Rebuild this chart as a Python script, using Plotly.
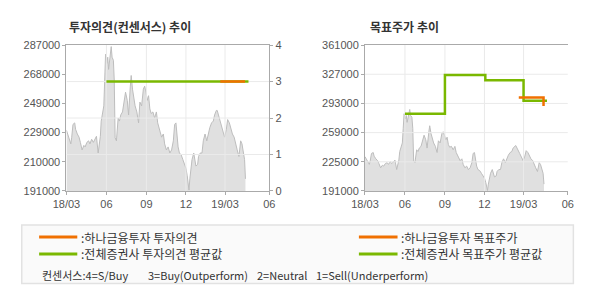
import plotly.graph_objects as go

# ---------------- data ----------------
PRICE_DATES = [
    "2018-03-01", "2018-03-04", "2018-03-07", "2018-03-11", "2018-03-13", "2018-03-16", "2018-03-20", "2018-03-22", "2018-03-26", "2018-03-30",
    "2018-04-02", "2018-04-06", "2018-04-10", "2018-04-13", "2018-04-17", "2018-04-21", "2018-04-24", "2018-04-28", "2018-05-02", "2018-05-06",
    "2018-05-09", "2018-05-13", "2018-05-15", "2018-05-18", "2018-05-20", "2018-05-23", "2018-05-26", "2018-05-28", "2018-05-30", "2018-06-02",
    "2018-06-04", "2018-06-06", "2018-06-09", "2018-06-12", "2018-06-14", "2018-06-17", "2018-06-19", "2018-06-21", "2018-06-24", "2018-06-26",
    "2018-06-28", "2018-07-01", "2018-07-04", "2018-07-08", "2018-07-11", "2018-07-15", "2018-07-19", "2018-07-22", "2018-07-26", "2018-07-28",
    "2018-07-31", "2018-08-03", "2018-08-06", "2018-08-10", "2018-08-14", "2018-08-17", "2018-08-21", "2018-08-25", "2018-08-28", "2018-08-31",
    "2018-09-03", "2018-09-06", "2018-09-09", "2018-09-12", "2018-09-16", "2018-09-20", "2018-09-24", "2018-09-27",
    "2018-09-29", "2018-10-02", "2018-10-06", "2018-10-10", "2018-10-13", "2018-10-17", "2018-10-21", "2018-10-25", "2018-10-29", "2018-11-02",
    "2018-11-05", "2018-11-08", "2018-11-11", "2018-11-13", "2018-11-16", "2018-11-20", "2018-11-24", "2018-11-28", "2018-12-01", "2018-12-04",
    "2018-12-07", "2018-12-08", "2018-12-10", "2018-12-13", "2018-12-15", "2018-12-19", "2018-12-21", "2018-12-24", "2018-12-28", "2018-12-30",
    "2019-01-03", "2019-01-07", "2019-01-10", "2019-01-14", "2019-01-18", "2019-01-22", "2019-01-25", "2019-01-29", "2019-02-02", "2019-02-05",
    "2019-02-09", "2019-02-11", "2019-02-14", "2019-02-17", "2019-02-20", "2019-02-24", "2019-02-28", "2019-03-04", "2019-03-07", "2019-03-11",
    "2019-03-14", "2019-03-18", "2019-03-22", "2019-03-26", "2019-03-29", "2019-04-02", "2019-04-06", "2019-04-09", "2019-04-13", "2019-04-15",
    "2019-04-17",
]
PRICE = [
    231000, 228500, 225000, 222000, 226000, 234800, 235800, 231600, 228500, 226400,
    223000, 218000, 221000, 220000, 223000, 224000, 222000, 225000, 223000, 226000,
    227000, 216000, 220000, 227000, 237000, 243000, 247000, 264000, 281000, 275000,
    279000, 271000, 281000, 286000, 279000, 277000, 264000, 226000, 224000, 232000,
    239000, 237000, 241000, 243000, 249500, 256000, 250600, 241000, 260000, 267000,
    258000, 251600, 247000, 243000, 235800, 249500, 247000, 258000, 260000, 256000,
    250600, 253700, 245000, 242000, 243000, 239000, 243000, 235800,
    233700, 230600, 226400, 228500, 222000, 218000, 220000, 216000, 218000, 224000,
    234800, 235800, 224000, 220000, 216000, 214800, 211600, 208500, 206000, 201000,
    194800, 191600, 199000, 205000, 211600, 216000, 211600, 207400, 208500, 213700,
    216000, 216000, 224000, 228500, 224000, 230600, 232700, 235800, 237000, 241000,
    244000, 244000, 241000, 237000, 234800, 230600, 226400, 231600, 238000, 235800,
    232700, 228500, 226400, 220000, 218000, 213700, 224000, 222000, 213700, 211600,
    199000,
]

# consensus opinion (4=S/Buy 3=Buy 2=Neutral 1=Sell)
OPINION_ALL_DATES = ["2018-06-01", "2019-04-24"]
OPINION_ALL = [3, 3]
OPINION_HANA_DATES = ["2019-02-18", "2019-04-16"]
OPINION_HANA = [3, 3]

# target price
TARGET_ALL_DATES = ["2018-06-01", "2018-09-01", "2018-12-03", "2019-03-01", "2019-04-24"]
TARGET_ALL = [281000, 326000, 320000, 296000, 296000]
TARGET_HANA_DATES = ["2019-02-18", "2019-04-16"]
TARGET_HANA = [300000, 290000]

# axes
X_RANGE = ["2018-03-01", "2019-06-11"]
X_TICKS = ["2018-03-01", "2018-06-01", "2018-09-01", "2018-12-01", "2019-03-01", "2019-06-11"]
X_LABELS = ["18/03", "06", "09", "12", "19/03", "06"]

L_RANGE = [191000, 287000]
L_TICKS = [191000, 210200, 229400, 248600, 267800, 287000]
L_LABELS = ["191000", "210000", "229000", "249000", "268000", "287000"]
OP_RANGE = [0, 4]
OP_TICKS = [0, 1, 2, 3, 4]

R_RANGE = [191000, 361000]
R_TICKS = [191000, 225000, 259000, 293000, 327000, 361000]
R_LABELS = ["191000", "225000", "259000", "293000", "327000", "361000"]

TITLE_L = "투자의견(컨센서스) 추이"
TITLE_R = "목표주가 추이"
LEG_L = [":하나금융투자 투자의견", ":전체증권사 투자의견 평균값"]
LEG_R = [":하나금융투자 목표주가", ":전체증권사 목표주가 평균값"]
LEG_NOTE = ["컨센서스:4=S/Buy", "3=Buy(Outperform)", "2=Neutral", "1=Sell(Underperform)"]

# ---------------- style ----------------
W, H = 590, 300
ORANGE = "#f07000"
GREEN = "#7ab800"
GRID = "#eaeaea"
AXIS = "#aaaaaa"
TICKC = "#555555"
KFONT = "Noto Sans CJK KR"
NFONT = "Liberation Sans, Arial"


def px(x):
    return x / W


def py(y):
    return 1 - y / H


fig = go.Figure()

# left chart: price area
fig.add_trace(go.Scatter(x=PRICE_DATES, y=PRICE, mode="lines", fill="tozeroy",
                         line=dict(color="#bdbdbd", width=1), fillcolor="#e0e0e0",
                         xaxis="x", yaxis="y", hoverinfo="skip"))
# right chart: price area
fig.add_trace(go.Scatter(x=PRICE_DATES, y=PRICE, mode="lines", fill="tozeroy",
                         line=dict(color="#bdbdbd", width=1), fillcolor="#e0e0e0",
                         xaxis="x2", yaxis="y3", hoverinfo="skip"))


def grid_trace(xa, ya, xs=None, ys=None, xr=None, yr=None):
    gx, gy = [], []
    if xs is not None:
        for v in xs:
            gx += [v, v, None]
            gy += [yr[0], yr[1], None]
    if ys is not None:
        for v in ys:
            gx += [xr[0], xr[1], None]
            gy += [v, v, None]
    return go.Scatter(x=gx, y=gy, mode="lines", line=dict(color=GRID, width=1),
                      xaxis=xa, yaxis=ya, hoverinfo="skip", connectgaps=False)


# gridlines drawn above the area but below the step lines
fig.add_trace(grid_trace("x", "y", xs=X_TICKS[1:-1], yr=L_RANGE))
fig.add_trace(grid_trace("x", "y2", ys=OP_TICKS[1:-1], xr=X_RANGE))
fig.add_trace(grid_trace("x2", "y3", xs=X_TICKS[1:-1], yr=R_RANGE))
fig.add_trace(grid_trace("x2", "y3", ys=R_TICKS[1:-1], xr=X_RANGE))

# opinion lines
fig.add_trace(go.Scatter(x=OPINION_ALL_DATES, y=OPINION_ALL, mode="lines",
                         line=dict(color=GREEN, width=2.5, shape="hv"),
                         xaxis="x", yaxis="y2"))
fig.add_trace(go.Scatter(x=OPINION_HANA_DATES, y=OPINION_HANA, mode="lines",
                         line=dict(color=ORANGE, width=2.5, shape="hv"),
                         xaxis="x", yaxis="y2"))
# target price lines
fig.add_trace(go.Scatter(x=TARGET_ALL_DATES, y=TARGET_ALL, mode="lines",
                         line=dict(color=GREEN, width=2.5, shape="hv"),
                         xaxis="x2", yaxis="y3"))
fig.add_trace(go.Scatter(x=TARGET_HANA_DATES, y=TARGET_HANA, mode="lines",
                         line=dict(color=ORANGE, width=2.5, shape="hv"),
                         xaxis="x2", yaxis="y3"))

YDOM = [py(192.7), py(40.7)]
tickfont = dict(family=NFONT, size=11, color=TICKC)
xcommon = dict(type="date", range=X_RANGE, tickmode="array", tickvals=X_TICKS, ticktext=X_LABELS,
               showgrid=False, showline=True, linecolor=AXIS, linewidth=1, mirror=True,
               ticks="outside", ticklen=3, tickcolor=AXIS, tickfont=tickfont, zeroline=False,
               fixedrange=True)
ycommon = dict(showgrid=False, showline=True, linecolor=AXIS, linewidth=1, zeroline=False,
               ticks="outside", ticklen=3, tickcolor=AXIS, tickfont=tickfont, tickmode="array",
               domain=YDOM, fixedrange=True)

fig.update_layout(
    width=W, height=H, autosize=False,
    margin=dict(l=0, r=0, t=0, b=0),
    paper_bgcolor="white", plot_bgcolor="white",
    showlegend=False,
    xaxis=dict(domain=[px(54.3), px(264.3)], anchor="y", **xcommon),
    yaxis=dict(range=L_RANGE, tickvals=L_TICKS, ticktext=L_LABELS, anchor="x", **ycommon),
    yaxis2=dict(range=OP_RANGE, tickvals=OP_TICKS, ticktext=[str(v) for v in OP_TICKS],
                overlaying="y", side="right", anchor="x", **ycommon),
    xaxis2=dict(domain=[px(363.3), px(573.3)], anchor="y3", **xcommon),
    yaxis3=dict(range=R_RANGE, tickvals=R_TICKS, ticktext=R_LABELS, anchor="x2", **ycommon),
)

ann = []
ann.append(dict(text="<b>" + TITLE_L + "</b>", x=px(55), y=py(21), xref="paper", yref="paper",
                xanchor="left", yanchor="middle", showarrow=False,
                font=dict(family=KFONT, size=12, color="#333333")))
ann.append(dict(text="<b>" + TITLE_R + "</b>", x=px(366.7), y=py(21), xref="paper", yref="paper",
                xanchor="left", yanchor="middle", showarrow=False,
                font=dict(family=KFONT, size=12, color="#333333")))

shapes = [dict(type="rect", xref="paper", yref="paper", x0=px(8), x1=px(579), y0=py(289), y1=py(228),
               fillcolor="#fafafa", line=dict(color="#e2e2e2", width=1.5), layer="below")]

rows = [240.7, 258.3]
colors = [ORANGE, GREEN]
for i in range(2):
    shapes.append(dict(type="line", xref="paper", yref="paper", x0=px(26), x1=px(65.5),
                       y0=py(rows[i]), y1=py(rows[i]), line=dict(color=colors[i], width=3)))
    shapes.append(dict(type="line", xref="paper", yref="paper", x0=px(357), x1=px(397),
                       y0=py(rows[i]), y1=py(rows[i]), line=dict(color=colors[i], width=3)))
    ann.append(dict(text=LEG_L[i], x=px(67), y=py(rows[i]), xref="paper", yref="paper",
                    xanchor="left", yanchor="middle", showarrow=False,
                    font=dict(family=KFONT, size=12, color="#333333")))
    ann.append(dict(text=LEG_R[i], x=px(398), y=py(rows[i]), xref="paper", yref="paper",
                    xanchor="left", yanchor="middle", showarrow=False,
                    font=dict(family=KFONT, size=12, color="#333333")))

note_x = [26.7, 136.7, 249, 310.7]
for t, xx in zip(LEG_NOTE, note_x):
    ann.append(dict(text=t, x=px(xx), y=py(280.5), xref="paper", yref="paper",
                    xanchor="left", yanchor="middle", showarrow=False,
                    font=dict(family=KFONT, size=11, color="#333333")))

fig.update_layout(annotations=ann, shapes=shapes)
fig.write_html("out.html", config={"displayModeBar": False})
